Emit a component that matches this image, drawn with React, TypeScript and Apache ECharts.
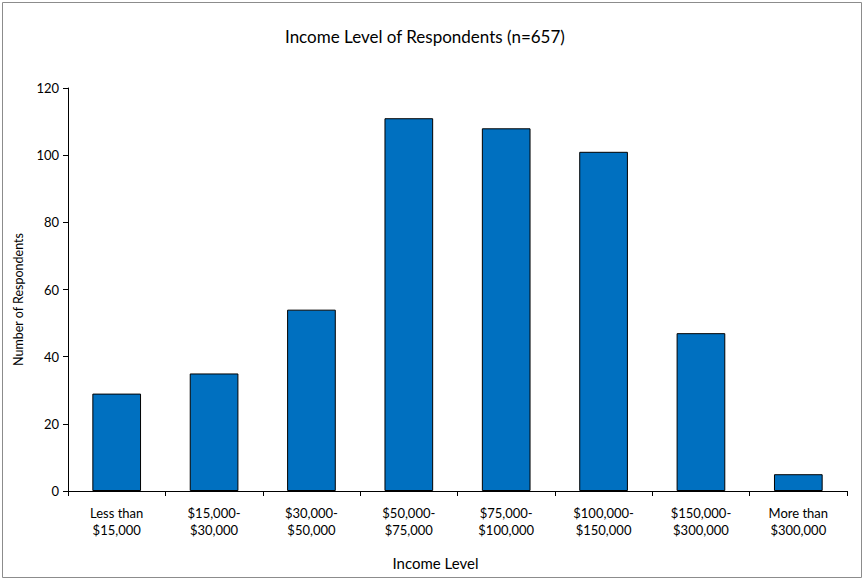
import React, { useEffect, useRef } from "react";
import * as echarts from "echarts";

const categories = [
  "Less than\n$15,000",
  "$15,000-\n$30,000",
  "$30,000-\n$50,000",
  "$50,000-\n$75,000",
  "$75,000-\n$100,000",
  "$100,000-\n$150,000",
  "$150,000-\n$300,000",
  "More than\n$300,000",
];
const respondents = [29, 35, 54, 111, 108, 101, 47, 5];

const FONT = "Lato, 'Open Sans', sans-serif";

export default function App() {
  const ref = useRef<HTMLDivElement>(null);
  useEffect(() => {
    if (!ref.current) return;
    const chart = echarts.init(ref.current, null, { renderer: "svg" });
    chart.setOption({
      animation: false,
      backgroundColor: "#ffffff",
      title: {
        text: "Income Level of Respondents (n=657)",
        left: 280,
        top: 23,
        textStyle: { fontFamily: FONT, fontSize: 17, fontWeight: "normal", color: "#000" },
      },
      graphic: [
        {
          type: "rect",
          shape: { x: 2.5, y: 2.5, width: 859, height: 575 },
          style: { fill: "none", stroke: "#8c8c8c", lineWidth: 1 },
          silent: true,
        },
      ],
      grid: { left: 68, top: 88, right: 18, bottom: 89 },
      xAxis: {
        type: "category",
        data: categories,
        name: "Income Level",
        nameLocation: "middle",
        nameGap: 64,
        nameTextStyle: {
          fontFamily: FONT,
          fontSize: 15,
          color: "#000",
          padding: [0, 44, 0, 0],
        },
        axisLine: { lineStyle: { color: "#000", width: 1 } },
        axisTick: { show: true, length: 5, lineStyle: { color: "#000" } },
        axisLabel: {
          fontFamily: FONT,
          fontSize: 13,
          color: "#000",
          margin: 13,
          lineHeight: 17,
          interval: 0,
        },
      },
      yAxis: {
        type: "value",
        min: 0,
        max: 120,
        interval: 20,
        name: "Number of Respondents",
        nameLocation: "middle",
        nameGap: 41,
        nameRotate: 90,
        nameTextStyle: {
          fontFamily: FONT,
          fontSize: 12.5,
          color: "#000",
          padding: [0, 20, 0, 0],
        },
        axisLine: { show: true, lineStyle: { color: "#000", width: 1 } },
        axisTick: { show: true, length: 5, lineStyle: { color: "#000" } },
        axisLabel: { fontFamily: FONT, fontSize: 13, color: "#000", margin: 9 },
        splitLine: { show: false },
      },
      series: [
        {
          type: "bar",
          data: respondents,
          barWidth: "50%",
          itemStyle: { color: "#0070C0", borderColor: "#000", borderWidth: 1 },
        },
      ],
    });
    return () => chart.dispose();
  }, []);
  return (
    <div
      ref={ref}
      style={{ position: "fixed", left: 0, top: 0, width: 865, height: 580 }}
    />
  );
}
